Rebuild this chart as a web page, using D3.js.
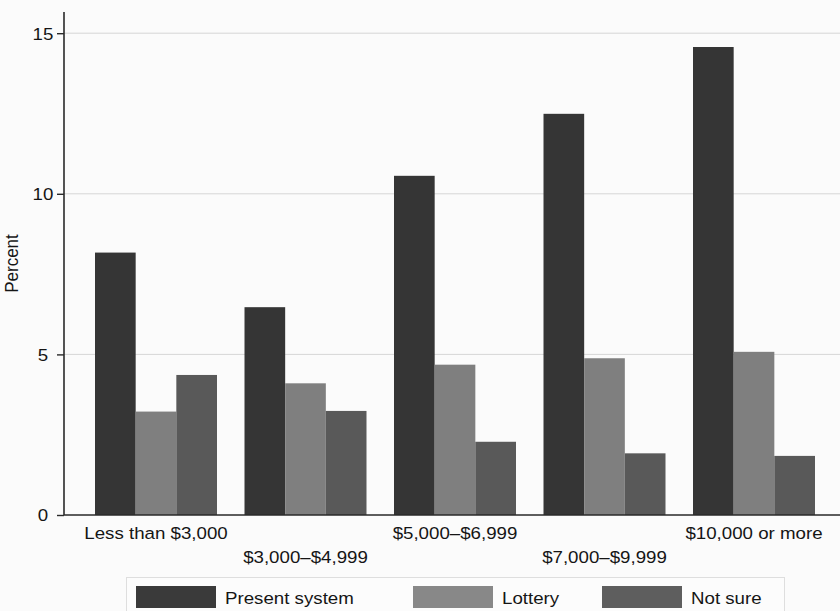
<!DOCTYPE html>
<html>
<head>
<meta charset="utf-8">
<script src="https://cdn.jsdelivr.net/npm/d3@7"></script>
<style>
  html, body { margin: 0; padding: 0; background: #fbfbfb; }
  svg { display: block; }
  text { font-family: "Liberation Sans", Arial, Helvetica, sans-serif; fill: #151515; }
</style>
</head>
<body>
<svg id="chart" width="840" height="611"></svg>
<script>
const categories = ["Less than $3,000", "$3,000–$4,999", "$5,000–$6,999", "$7,000–$9,999", "$10,000 or more"];
const seriesNames = ["Present system", "Lottery", "Not sure"];
const presentSystem = [8.17, 6.47, 10.56, 12.49, 14.57];
const lottery = [3.22, 4.10, 4.68, 4.88, 5.08];
const notSure = [4.36, 3.24, 2.28, 1.92, 1.84];
const yTicks = [0, 5, 10, 15];
const yAxisTop = 15.66;
const seriesColors = ["#353535", "#7f7f7f", "#595959"];
const legendColors = ["#3a3a3a", "#888888", "#5e5e5e"];

const seriesValues = [presentSystem, lottery, notSure];
const svg = d3.select("#chart");
const W = 840, H = 611;
const FS = 17, SX = 1.1;

function stretch(sel) {
  sel.each(function () {
    const t = d3.select(this);
    const x = +t.attr("x") || 0, y = +t.attr("y") || 0;
    t.attr("x", 0).attr("y", 0).attr("transform", `translate(${x},${y}) scale(${SX},1)`);
  });
}

svg.append("rect").attr("width", W).attr("height", H).attr("fill", "#fbfbfb");

const x0 = d3.scaleBand().domain(categories).range([64, 846]).paddingInner(0.184).paddingOuter(0.2074);
const x1 = d3.scaleBand().domain(seriesNames).range([0, x0.bandwidth()]).padding(0);
const y = d3.scaleLinear().domain([0, yAxisTop]).range([515, 12]);

// gridlines
svg.append("g").selectAll("line").data(yTicks.filter(d => d > 0)).join("line")
  .attr("x1", 64).attr("x2", W).attr("y1", d => y(d)).attr("y2", d => y(d))
  .attr("stroke", "#d6d6d6").attr("stroke-width", 1);

// bars
const groups = svg.append("g").selectAll("g").data(categories).join("g")
  .attr("transform", d => `translate(${x0(d)},0)`);
groups.selectAll("rect").data((c, i) => seriesNames.map((s, j) => ({ s, j, v: seriesValues[j][i] })))
  .join("rect")
  .attr("x", d => x1(d.s)).attr("width", x1.bandwidth())
  .attr("y", d => y(d.v)).attr("height", d => y(0) - y(d.v))
  .attr("fill", d => seriesColors[d.j]);

// y axis
const yAxis = svg.append("g").attr("transform", "translate(64,0)")
  .call(d3.axisLeft(y).tickValues(yTicks).tickSize(7).tickPadding(0).tickFormat(d3.format("d")));
yAxis.select(".domain").attr("stroke", "#2a2a2a").attr("stroke-width", 1.6).attr("d", `M0,${y(yAxisTop)}V${y(0)}`);
yAxis.selectAll(".tick line").attr("stroke", "#2a2a2a").attr("stroke-width", 1.4);
yAxis.selectAll(".tick text")
  .attr("x", -21).attr("text-anchor", "middle").attr("dy", "0.35em")
  .style("font-size", FS + "px").attr("fill", "#151515")
  .call(stretch);

// x axis
const xAxis = svg.append("g").attr("transform", `translate(0,${y(0)})`)
  .call(d3.axisBottom(x0).tickSize(0).tickPadding(0));
xAxis.select(".domain").attr("stroke", "#2a2a2a").attr("stroke-width", 1.6).attr("d", `M64,0H${W}`);
xAxis.selectAll(".tick text")
  .attr("y", (d, i) => i % 2 === 0 ? 23.5 : 47.5).attr("dy", 0)
  .attr("text-anchor", "middle")
  .style("font-size", FS + "px").attr("fill", "#151515")
  .call(stretch);

// y title
svg.append("text")
  .attr("transform", `translate(18,${(y(yAxisTop) + y(0)) / 2}) scale(${SX},1) rotate(-90)`)
  .attr("text-anchor", "middle")
  .style("font-size", FS + "px")
  .text("Percent");

// legend
const legend = svg.append("g");
legend.append("rect").attr("x", 126.5).attr("y", 577.5).attr("width", 658).attr("height", 50)
  .attr("fill", "#fcfcfc").attr("stroke", "#dedede").attr("stroke-width", 1);
const legendX = [136, 413, 602];
const items = legend.selectAll("g.item").data(seriesNames).join("g").attr("class", "item")
  .attr("transform", (d, i) => `translate(${legendX[i]},586)`);
items.append("rect").attr("width", 80).attr("height", 22).attr("fill", (d, i) => legendColors[i]);
items.append("text").attr("x", 89).attr("y", 17.5).style("font-size", FS + "px").text(d => d)
  .call(stretch);
</script>
</body>
</html>
